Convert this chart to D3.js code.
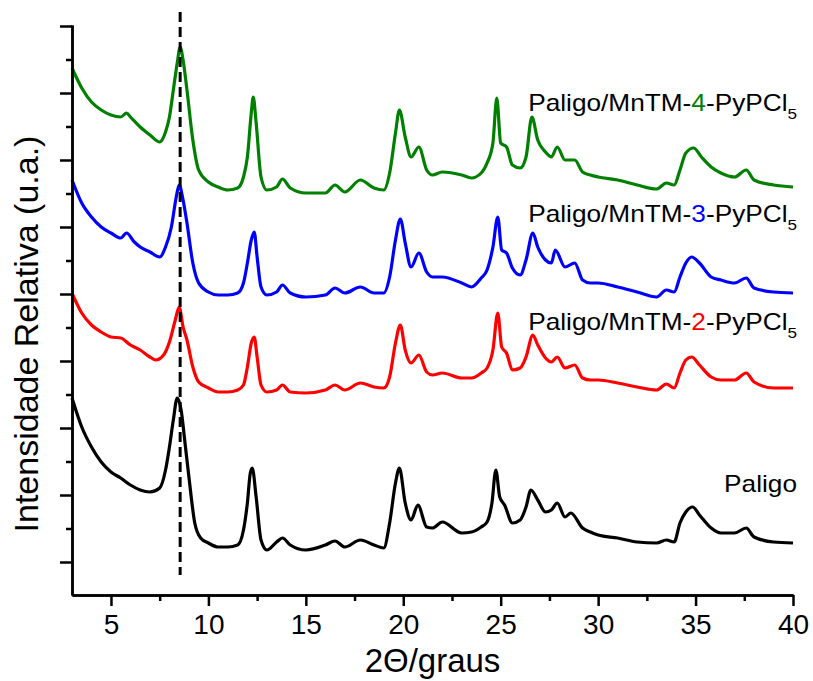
<!DOCTYPE html>
<html>
<head>
<meta charset="utf-8">
<script src="https://cdn.jsdelivr.net/npm/d3@7"></script>
<style>
  html, body { margin: 0; padding: 0; background: #fff; }
  svg { display: block; font-family: "Liberation Sans", Arial, sans-serif; }
</style>
</head>
<body>
<div id="chart"></div>
<script>
// 2theta (graus) vs intensidade (u.a., curvas ja deslocadas)
const xTicks = [5, 10, 15, 20, 25, 30, 35, 40];
const xMinorTicks = [7.5, 12.5, 17.5, 22.5, 27.5, 32.5, 37.5];
const refTheta = 8.55; // linha tracejada

const paligo = [[3,164],[3.5,135],[4,115],[4.5,100],[5,90],[5.5,84],[6,77],[6.5,72],[7,70],[7.5,74],[7.8,92],[8,115],[8.2,142],[8.4,164],[8.6,152],[8.8,119],[9,85],[9.3,39],[9.6,24],[10,19],[10.5,15],[11,15],[11.5,17],[11.8,32],[12,59],[12.15,89],[12.25,94],[12.45,65],[12.7,22],[13,12],[13.5,20],[13.8,24],[14.2,17],[15,12],[16,17],[16.5,21],[17,15],[17.8,22],[18.5,17],[19,14],[19.3,39],[19.6,79],[19.8,94],[20.1,59],[20.4,42],[20.75,57],[21.2,35],[21.5,34],[22,40],[23,29],[23.5,30],[24,35],[24.3,40],[24.55,59],[24.75,92],[24.95,65],[25.2,57],[25.6,39],[26,42],[26.3,55],[26.55,72],[26.9,62],[27.3,50],[27.6,52],[27.9,59],[28.3,45],[28.6,49],[29.2,34],[29.6,30],[30,27],[31,24],[32,20],[33,19],[33.5,22],[33.9,20],[34.2,39],[34.5,50],[34.85,55],[35.2,47],[35.8,34],[36.3,29],[37,29],[37.6,34],[38,25],[39,20],[40,19]];

const mn2 = [[3,269],[3.5,249],[4,237],[4.5,230],[5,225],[5.5,224],[6,217],[6.5,212],[7,205],[7.3,202],[7.7,207],[8,220],[8.3,242],[8.5,255],[8.7,235],[8.9,222],[9.2,195],[9.5,180],[10,174],[10.5,170],[11,170],[11.5,172],[11.8,177],[12,195],[12.2,219],[12.35,225],[12.5,205],[12.7,177],[13,170],[13.5,172],[13.8,177],[14.2,170],[15,169],[16,172],[16.5,177],[17,172],[17.8,179],[18.5,175],[19,174],[19.3,185],[19.6,219],[19.85,237],[20.1,212],[20.4,199],[20.8,207],[21.2,190],[21.5,187],[22,189],[23,184],[23.5,184],[24,189],[24.3,194],[24.6,212],[24.85,249],[25.05,215],[25.3,209],[25.6,192],[26,194],[26.3,205],[26.65,227],[26.9,217],[27.3,204],[27.6,200],[27.9,205],[28.3,194],[28.8,197],[29.2,184],[29.6,182],[30,182],[31,179],[32,175],[33,172],[33.5,178],[33.9,174],[34.2,189],[34.5,202],[34.8,205],[35.2,197],[35.8,185],[36.3,182],[37,182],[37.6,189],[38,180],[39,174],[40,174]];

const mn3 = [[3,382],[3.5,359],[4,345],[4.5,335],[5,329],[5.5,324],[5.8,329],[6.2,320],[6.5,315],[7,310],[7.5,305],[7.8,315],[8.1,335],[8.35,365],[8.5,377],[8.7,362],[8.9,339],[9.2,299],[9.5,279],[10,270],[10.5,267],[11,267],[11.5,269],[11.8,279],[12,299],[12.2,322],[12.35,330],[12.5,305],[12.7,275],[13,267],[13.5,270],[13.8,277],[14.2,269],[15,265],[16,267],[16.5,274],[17,269],[17.8,275],[18.5,269],[19,269],[19.3,285],[19.6,322],[19.85,343],[20.1,319],[20.4,295],[20.8,309],[21.2,290],[21.5,285],[22,285],[23,279],[23.5,275],[24,284],[24.3,292],[24.6,315],[24.85,345],[25.05,312],[25.3,309],[25.6,294],[26,287],[26.3,302],[26.65,329],[26.9,315],[27.3,302],[27.6,299],[27.8,312],[28.3,295],[28.8,299],[29.2,282],[29.6,279],[30,279],[31,275],[32,270],[33,265],[33.5,272],[33.9,270],[34.2,285],[34.5,299],[34.8,305],[35.2,299],[35.8,285],[36.3,282],[37,279],[37.6,284],[38,274],[39,270],[40,269]];

const mn4 = [[3,494],[3.5,474],[4,460],[4.5,452],[5,447],[5.5,445],[5.8,449],[6,445],[6.5,435],[7,427],[7.5,420],[7.8,430],[8,445],[8.2,472],[8.4,499],[8.55,515],[8.7,502],[8.9,472],[9.2,422],[9.5,392],[10,380],[10.5,375],[11,372],[11.5,374],[11.8,385],[12,405],[12.2,449],[12.3,465],[12.45,439],[12.7,385],[13,372],[13.5,375],[13.8,383],[14.2,374],[15,369],[16,369],[16.5,377],[17,370],[17.8,382],[18.5,374],[19,372],[19.3,389],[19.6,429],[19.8,452],[20.1,425],[20.4,405],[20.8,415],[21.2,392],[21.5,387],[22,390],[23,387],[23.5,384],[24,389],[24.3,399],[24.6,419],[24.8,464],[25,419],[25.3,415],[25.6,397],[26,394],[26.3,405],[26.6,445],[26.9,422],[27.3,410],[27.6,405],[27.9,415],[28.3,402],[28.8,402],[29.2,390],[29.6,387],[30,385],[31,382],[32,377],[33,373],[33.5,379],[33.9,377],[34.2,392],[34.5,409],[34.9,414],[35.3,405],[35.8,395],[36.3,389],[37,385],[37.6,392],[38,382],[39,377],[40,375]];

const seriesNames = ["Paligo", "Paligo/MnTM-2-PyPCl5", "Paligo/MnTM-3-PyPCl5", "Paligo/MnTM-4-PyPCl5"];
const seriesColors = ["#000000", "#ff0000", "#0000ff", "#008000"];
const seriesData = [paligo, mn2, mn3, mn4];

const width = 813, height = 681;
const margin = { top: 25, right: 20, bottom: 86, left: 72 };

const svg = d3.select("#chart").append("svg")
    .attr("width", width)
    .attr("height", height);

const x = d3.scaleLinear().domain([3, 40]).range([margin.left, width - margin.right]);
const y = d3.scaleLinear().domain([-33, 537]).range([height - margin.bottom, margin.top]);

// curvas
const line = d3.line()
    .curve(d3.curveMonotoneX)
    .x(d => x(d[0]))
    .y(d => y(d[1]));

seriesData.forEach((data, i) => {
    svg.append("path")
        .datum(data)
        .attr("d", line)
        .attr("fill", "none")
        .attr("stroke", seriesColors[i])
        .attr("stroke-width", 3.2)
        .attr("stroke-linejoin", "round");
});

// linha de referencia tracejada
svg.append("line")
    .attr("x1", x(refTheta)).attr("x2", x(refTheta))
    .attr("y1", y(550)).attr("y2", y(-13))
    .attr("stroke", "#000")
    .attr("stroke-width", 3)
    .attr("stroke-dasharray", "10 5");

// eixos
const bottomY = y.range()[0];
const xAxis = svg.append("g")
    .attr("transform", `translate(0,${bottomY})`)
    .call(d3.axisBottom(x).tickValues(xTicks).tickSize(11).tickSizeOuter(0).tickPadding(8));
svg.append("g")
    .attr("transform", `translate(0,${bottomY})`)
    .call(d3.axisBottom(x).tickValues(xMinorTicks).tickSize(6).tickSizeOuter(0).tickFormat(""));

const yTicks = d3.range(0, 537, 33.5);
svg.append("g")
    .attr("transform", `translate(${margin.left},0)`)
    .call(d3.axisLeft(y).tickValues(yTicks.filter((d, i) => i % 2 === 0)).tickSize(12).tickSizeOuter(0).tickFormat(""));
svg.append("g")
    .attr("transform", `translate(${margin.left},0)`)
    .call(d3.axisLeft(y).tickValues(yTicks.filter((d, i) => i % 2 === 1)).tickSize(6).tickSizeOuter(0).tickFormat(""));

svg.selectAll(".domain, .tick line")
    .attr("stroke", "#000")
    .attr("stroke-width", 2.5);

xAxis.selectAll(".tick text")
    .attr("font-size", 28)
    .attr("font-family", "'Liberation Sans', Arial, sans-serif")
    .attr("fill", "#000");

// titulos dos eixos
svg.append("text")
    .attr("x", (x.range()[0] + x.range()[1]) / 2)
    .attr("y", 672)
    .attr("text-anchor", "middle")
    .attr("font-size", 33)
    .text("2Θ/graus");

svg.append("text")
    .attr("transform", "translate(38,334) rotate(-90)")
    .attr("text-anchor", "middle")
    .attr("font-size", 34)
    .text("Intensidade Relativa (u.a.)");

// rotulos das curvas
const labelY = [492, 330, 222, 111];
seriesNames.forEach((name, i) => {
    const g = svg.append("g")
        .attr("transform", `translate(797,${labelY[i]}) scale(1.14,1)`);
    const t = g.append("text")
        .attr("text-anchor", "end")
        .attr("font-size", 23)
        .attr("fill", "#000");
    const m = name.match(/^(.*MnTM-)(\d)(-PyPCl)(5)$/);
    if (!m) {
        t.text(name);
        return;
    }
    t.append("tspan").text(m[1]);
    t.append("tspan").attr("fill", seriesColors[i]).text(m[2]);
    t.append("tspan").text(m[3]);
    t.append("tspan").attr("font-size", 15).attr("dy", 8).text(m[4]);
});
</script>
</body>
</html>
